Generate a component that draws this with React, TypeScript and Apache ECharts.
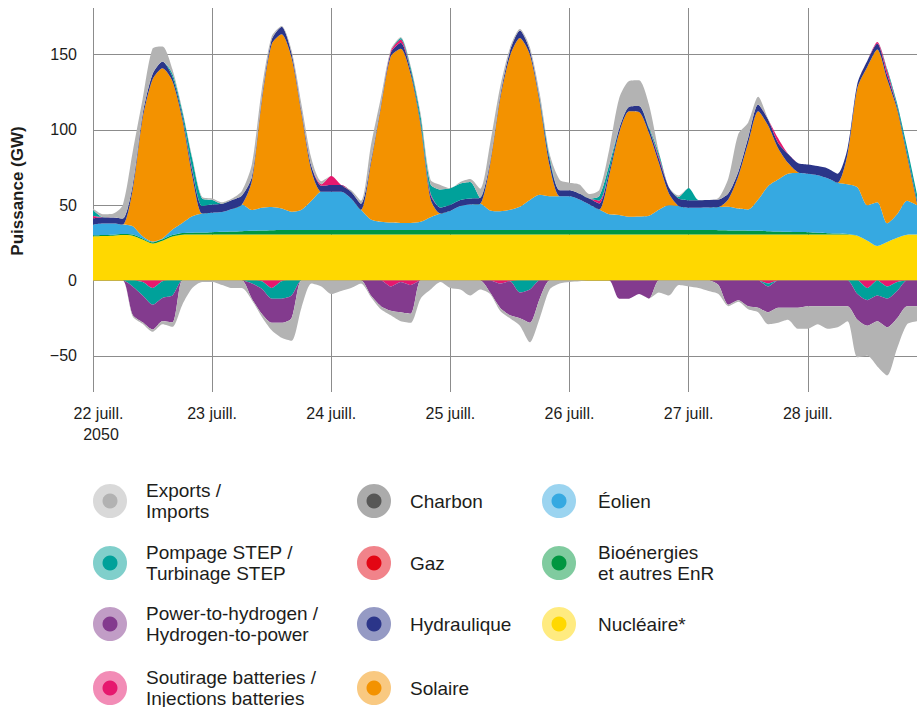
import React, { useEffect, useRef } from "react";
import * as echarts from "echarts";

const FONT = '"Liberation Sans", Arial, Helvetica, sans-serif';
const STEP_H = 2;

const dayLabels = ["22 juill.\n2050", "23 juill.", "24 juill.", "25 juill.", "26 juill.", "27 juill.", "28 juill."];
const yTicks = [-50, 0, 50, 100, 150];

// ---- positive contributions (GW), one value every 2 hours from 22 juill. 00h
const nucleaire = [
  29.4, 29.6, 29.8, 30.2, 29.8, 27.2, 24.6, 26.5, 29.2, 30.5, 30.6, 30.6,
  30.6, 30.6, 30.6, 30.6, 30.6, 30.6, 30.6, 30.6, 30.6, 30.6, 30.6, 30.6,
  30.6, 30.6, 30.6, 30.6, 30.6, 30.6, 30.6, 30.6, 30.6, 30.6, 30.6, 30.6,
  30.6, 30.6, 30.6, 30.6, 30.6, 30.6, 30.6, 30.6, 30.6, 30.6, 30.6, 30.6,
  30.6, 30.6, 30.6, 30.6, 30.6, 30.6, 30.6, 30.6, 30.6, 30.6, 30.6, 30.6,
  30.6, 30.6, 30.6, 30.6, 30.6, 30.6, 30.6, 30.6, 30.6, 30.6, 30.6, 30.6,
  30.6, 30.6, 30.6, 30.6, 30.6, 29.7, 26.5, 23.0, 25.6, 28.4, 30.5, 30.6,
];
const bioenergies = [
  0.6, 0.6, 0.7, 0.7, 0.8, 0.8, 0.8, 0.9, 1.0, 1.1, 1.2, 1.3,
  1.5, 1.8, 2.0, 2.2, 2.4, 2.6, 2.8, 3.0, 3.0, 3.0, 3.0, 3.0,
  3.0, 3.0, 3.0, 3.0, 3.0, 3.0, 3.0, 3.0, 3.0, 3.0, 3.0, 3.0,
  3.0, 3.0, 3.0, 3.0, 3.0, 3.0, 3.0, 3.0, 3.0, 3.0, 3.0, 3.0,
  3.0, 3.0, 3.0, 3.0, 3.0, 3.0, 3.0, 3.0, 3.0, 3.0, 3.0, 3.0,
  3.0, 3.0, 2.9, 2.8, 2.7, 2.6, 2.5, 2.4, 2.2, 2.0, 1.8, 1.6,
  1.5, 1.2, 0.9, 0.6, 0.3, 0.1, 0, 0, 0, 0, 0, 0,
];
const eolien = [
  7.2, 7.7, 7.4, 6.3, 5.5, 1.4, 0.5, 0.6, 3.7, 6.7, 10.9, 12.6,
  12.9, 13.1, 14.9, 17.7, 13.8, 15.1, 15.4, 14.2, 12.1, 13.4, 19.4, 25.4,
  25.4, 25.4, 20.9, 13.4, 6.9, 5.4, 4.9, 4.7, 4.7, 5.4, 8.4, 10.9,
  12.7, 15.9, 16.9, 17.4, 12.9, 12.4, 13.4, 15.4, 19.9, 23.4, 22.4, 22.4,
  22.4, 20.2, 16.9, 13.6, 10.4, 9.9, 8.7, 8.9, 9.4, 13.4, 16.4, 15.9,
  14.8, 14.8, 15.0, 15.4, 15.7, 14.6, 14.1, 20.8, 29.9, 34.5, 38.6, 39.3,
  38.9, 38.2, 36.5, 33.8, 33.1, 32.2, 23.5, 29.0, 12.4, 15.6, 22.5, 19.4,
];
const solaire = [
  0, 0, 0, 0, 24.4, 78.6, 107.7, 113, 98.5, 68.7, 26.6, 0,
  0, 0, 0, 0, 19.2, 70.7, 108.2, 115.7, 102.3, 64, 20, 0,
  0, 0, 0, 0, 37.5, 76, 110.5, 115.7, 98.7, 64, 12, 0,
  0, 0, 0, 0, 30.6, 74.2, 102, 112, 96.6, 61, 20, 0,
  0, 0, 0, 0, 26, 54.5, 70.2, 69.5, 55, 31, 8, 0,
  0, 0, 0, 0, 5, 21.5, 44.3, 58.7, 40.3, 21, 7.2, 0.5,
  0, 0, 0, 0, 19.7, 66, 92, 101.5, 95.5, 69.6, 29.6, 1.6,
];
const hydraulique = [
  4.2, 4.2, 4.0, 4.0, 3.0, 2.5, 3.5, 4.5, 3.0, 2.5, 3.5, 5.0,
  5.5, 5.5, 6.0, 6.0, 3.0, 2.0, 3.0, 5.0, 3.0, 2.0, 3.0, 4.0,
  4.5, 4.5, 4.5, 4.0, 2.0, 1.5, 2.5, 4.0, 2.5, 2.0, 3.0, 4.0,
  4.0, 4.0, 4.0, 4.0, 2.0, 2.0, 3.5, 5.0, 3.0, 2.0, 4.0, 4.0,
  4.0, 4.0, 4.0, 4.0, 3.0, 3.0, 3.0, 4.0, 3.0, 3.0, 4.0, 5.0,
  5.0, 5.0, 5.0, 5.0, 4.0, 3.0, 3.5, 4.5, 4.0, 3.5, 6.0, 6.0,
  6.0, 6.0, 6.5, 6.0, 4.0, 3.0, 4.0, 4.0, 3.0, 2.0, 2.0, 2.0,
];
const injectionsBatteries = [
  1.5, 0, 0, 0, 0, 0, 0, 0, 0, 0, 1, 0,
  0, 0, 0, 0, 0, 0, 0, 0, 0, 0, 0, 1,
  6, 0, 0, 0, 0, 0, 1, 2, 0, 0, 1, 0,
  0, 0, 0, 0, 0, 0, 0, 0, 0, 0, 0, 0,
  0, 0, 0, 2, 0, 0, 0, 0, 0, 1.5, 0, 0,
  0, 0, 0, 0, 0, 0, 0, 0, 0, 3, 0, 0,
  0, 0, 0, 0, 0, 0, 0, 1, 3, 0, 0, 0,
];
const turbinageStep = [
  4, 0, 0, 0, 0, 0, 0, 0, 2, 3, 7, 5,
  3, 0, 0, 0, 0, 0, 0, 0, 0, 0, 0, 0,
  0, 0, 0, 0, 0, 0, 0, 1, 2, 4, 6, 12,
  11, 11, 11, 0, 0, 0, 0, 0, 0, 1, 2, 0,
  0, 0, 0, 3, 4, 0, 0, 0, 1, 2, 0, 1,
  8, 0, 0, 0, 0, 0, 0, 0, 0, 0, 0, 0,
  0, 0, 0, 0, 0, 0, 0, 0, 1, 2, 4, 4,
];
const imports = [
  1, 2, 2.5, 9, 22, 10, 17, 10, 3, 1, 1, 1,
  1, 1, 1, 3, 8, 6, 2, 0.5, 2, 4, 5, 2,
  0, 0, 1, 2, 10, 5, 1, 0.5, 1, 2, 3, 3,
  0, 1, 2, 6, 12, 6, 2, 1, 2, 3, 2, 7,
  5, 6, 3, 4, 10, 20, 17, 17, 15, 1, 0, 1,
  0, 0, 0, 1, 10, 25, 10, 5, 0.5, 0, 0, 0,
  0, 0, 0, 0, 0, 0, 0, 0, 0, 0, 0, 0,
];

// ---- negative contributions (GW, magnitudes drawn below zero)
const soutirageBatteries = [
  0, 0, 0, 0, 0, 1, 5, 0.5, 0, 0, 0, 0,
  0, 0, 0, 0, 0, 0.5, 5, 0.5, 0, 0, 0, 0,
  0, 0, 0, 0, 0, 0, 4, 1, 3, 0, 0, 0,
  0, 0, 0, 0, 0, 2, 0.5, 0, 0, 0, 0, 0,
  0, 0, 0, 0, 0, 0, 0, 0, 0, 0, 0, 0,
  0, 0, 0, 0, 0, 0, 0, 0, 2, 0, 0, 0,
  0, 0, 0, 0, 0, 0, 5, 0, 4, 1, 0, 0,
];
const pompageStep = [
  0, 0, 0, 0, 4, 9, 11, 11, 10, 0, 0, 0,
  0, 0, 0, 0, 2, 5, 7, 11.5, 10, 0, 0, 0,
  0, 0, 0, 0, 0, 0, 0, 0, 0, 0, 0, 0,
  0, 0, 0, 0, 0, 0, 0, 8, 6, 0, 0, 0,
  0, 0, 0, 0, 0, 0, 0, 0, 0, 0, 0, 0,
  0, 0, 0, 0, 0, 0, 0, 0, 2, 0, 0, 0,
  0, 0, 0, 0, 0, 9, 8, 10, 8, 6, 0, 0,
];
const powerToHydrogen = [
  0, 0, 0, 0, 18.8, 17.7, 16.5, 15.5, 17.7, 0, 0, 0,
  0, 0, 0, 0, 10, 16.5, 16, 16, 15, 0, 0, 0,
  0, 0, 0, 0, 10, 17, 16, 20, 19, 0, 0, 0,
  0, 0, 0, 0, 8, 16, 22.5, 17, 22, 12, 0, 0,
  0, 0, 0, 0, 0, 12, 12, 9, 12, 0, 0, 0,
  0, 0, 0, 3, 16, 13, 17, 18, 17, 18, 18, 18,
  17, 17, 17, 17, 17, 17, 17, 17, 19, 18, 17, 17,
];
const exportsGW = [
  0, 0, 0, 0, 1, 1, 1.5, 2, 3, 16, 5, 1,
  1, 3, 5, 5, 1, 2, 5, 10, 15, 18, 2, 4,
  9, 7, 5, 2, 1, 2, 3, 6, 6, 12, 6, 1,
  5, 6, 10, 6, 1, 2, 2, 5, 13, 13, 6, 2,
  1, 0.5, 0, 0, 0, 0, 0, 0, 0, 8, 10, 3,
  4, 5, 7, 6, 1, 1, 2, 3, 8, 10, 8, 14,
  15, 12, 15, 14, 10, 25, 20, 30, 32, 20, 12, 10,
];

const COLORS = {
  gray: "#B3B3B3",
  teal: "#00A19A",
  purple: "#833B8E",
  pink: "#E6186E",
  hydro: "#2B3589",
  solar: "#F39200",
  wind: "#36A9E1",
  bio: "#009640",
  nuc: "#FFD800",
};

const legendItems = [
  { label: "Exports /\nImports", outer: "#D9D9D9", inner: "#B2B2B2", col: 0, row: 0 },
  { label: "Pompage STEP /\nTurbinage STEP", outer: "#80CFCB", inner: "#00A19A", col: 0, row: 1 },
  { label: "Power-to-hydrogen /\nHydrogen-to-power", outer: "#C19DC6", inner: "#833B8E", col: 0, row: 2 },
  { label: "Soutirage batteries /\nInjections batteries", outer: "#F28CB6", inner: "#E6186E", col: 0, row: 3 },
  { label: "Charbon", outer: "#ABABAB", inner: "#575756", col: 1, row: 0 },
  { label: "Gaz", outer: "#F1838A", inner: "#E30613", col: 1, row: 1 },
  { label: "Hydraulique", outer: "#959AC4", inner: "#2B3589", col: 1, row: 2 },
  { label: "Solaire", outer: "#F9C981", inner: "#F39200", col: 1, row: 3 },
  { label: "Éolien", outer: "#9BD4F0", inner: "#36A9E1", col: 2, row: 0 },
  { label: "Bioénergies\net autres EnR", outer: "#80CB9F", inner: "#009640", col: 2, row: 1 },
  { label: "Nucléaire*", outer: "#FFEB80", inner: "#FFD800", col: 2, row: 2 },
];

// time categories: hours since 22 juill. 00h
const hours = nucleaire.map((_, i) => String(i * STEP_H));
const isDayStart = (idx: number) => (idx * STEP_H) % 24 === 0;

function areaSeries(name: string, values: number[], color: string, stack: "pos" | "neg") {
  return {
    name,
    type: "line",
    stack,
    stackStrategy: "all",
    data: values.map((v) => (stack === "neg" ? -v : v)),
    smooth: 0.25,
    symbol: "none",
    showSymbol: false,
    silent: true,
    lineStyle: { width: 0, color },
    itemStyle: { color },
    areaStyle: { color, opacity: 1 },
    emphasis: { disabled: true },
  };
}

export default function App() {
  const ref = useRef<HTMLDivElement>(null);

  useEffect(() => {
    if (!ref.current) return;
    const chart = echarts.init(ref.current, undefined, { renderer: "svg" });

    const colX = [110, 374, 559];
    const textX = [146, 410, 598];
    const rowY = [501, 563, 624, 688];

    const legendGraphics: any[] = [];
    legendItems.forEach((it) => {
      const cx = colX[it.col];
      const cy = rowY[it.row];
      legendGraphics.push({ type: "circle", shape: { cx, cy, r: 17 }, style: { fill: it.outer }, silent: true });
      legendGraphics.push({ type: "circle", shape: { cx, cy, r: 7.5 }, style: { fill: it.inner }, silent: true });
      legendGraphics.push({
        type: "text",
        x: textX[it.col],
        y: cy,
        silent: true,
        style: {
          text: it.label,
          fontSize: 19,
          fontFamily: FONT,
          fill: "#1d1d1b",
          textAlign: "left",
          textVerticalAlign: "middle",
          lineHeight: 21.5,
        },
      });
    });

    const option: any = {
      animation: false,
      backgroundColor: "#ffffff",
      grid: { left: 93, right: 0, top: 8, bottom: 315, containLabel: false },
      xAxis: {
        type: "category",
        boundaryGap: false,
        data: hours,
        axisLine: { show: false },
        axisTick: { show: false },
        axisLabel: {
          interval: (idx: number) => isDayStart(idx),
          margin: 11,
          color: "#1d1d1b",
          fontSize: 16,
          fontFamily: FONT,
          lineHeight: 21,
          formatter: (v: string) => {
            const h = Number(v);
            if (h % 24 !== 0) return "";
            const d = h / 24;
            if (d === 0) return "{a|22 juill.}\n{b|2050}";
            return dayLabels[d] || "";
          },
          rich: {
            a: { fontSize: 16, fontFamily: FONT, color: "#1d1d1b", lineHeight: 21, padding: [0, 0, 0, 11] },
            b: { fontSize: 16, fontFamily: FONT, color: "#1d1d1b", lineHeight: 21, padding: [0, 0, 0, 16] },
          },
        },
        splitLine: {
          show: true,
          interval: (idx: number) => isDayStart(idx),
          lineStyle: { color: "#8c8c8c", width: 1 },
        },
      },
      yAxis: {
        type: "value",
        min: -74,
        max: 181,
        axisLine: { show: false },
        axisTick: { show: false, customValues: yTicks },
        axisLabel: {
          customValues: yTicks,
          margin: 16,
          color: "#1d1d1b",
          fontSize: 16,
          fontFamily: FONT,
          formatter: (v: number) => (v < 0 ? "\u2212" + Math.abs(v) : String(v)),
        },
        splitLine: { show: true, lineStyle: { color: "#8c8c8c", width: 1 } },
      },
      series: [
        areaSeries("Nucléaire*", nucleaire, COLORS.nuc, "pos"),
        areaSeries("Bioénergies et autres EnR", bioenergies, COLORS.bio, "pos"),
        areaSeries("Éolien", eolien, COLORS.wind, "pos"),
        areaSeries("Solaire", solaire, COLORS.solar, "pos"),
        areaSeries("Hydraulique", hydraulique, COLORS.hydro, "pos"),
        areaSeries("Injections batteries", injectionsBatteries, COLORS.pink, "pos"),
        areaSeries("Turbinage STEP", turbinageStep, COLORS.teal, "pos"),
        areaSeries("Imports", imports, COLORS.gray, "pos"),
        areaSeries("Soutirage batteries", soutirageBatteries, COLORS.pink, "neg"),
        areaSeries("Pompage STEP", pompageStep, COLORS.teal, "neg"),
        areaSeries("Power-to-hydrogen", powerToHydrogen, COLORS.purple, "neg"),
        areaSeries("Exports", exportsGW, COLORS.gray, "neg"),
      ],
      graphic: [
        {
          type: "text",
          x: 17,
          y: 191,
          rotation: Math.PI / 2,
          silent: true,
          style: {
            text: "Puissance (GW)",
            fontSize: 17,
            fontWeight: "bold",
            fontFamily: FONT,
            fill: "#1d1d1b",
            textAlign: "center",
            textVerticalAlign: "middle",
          },
        },
        ...legendGraphics,
      ],
    };

    chart.setOption(option);
    return () => chart.dispose();
  }, []);

  return (
    <div
      ref={ref}
      style={{ position: "fixed", left: 0, top: 0, width: 917, height: 707, background: "#fff" }}
    />
  );
}
